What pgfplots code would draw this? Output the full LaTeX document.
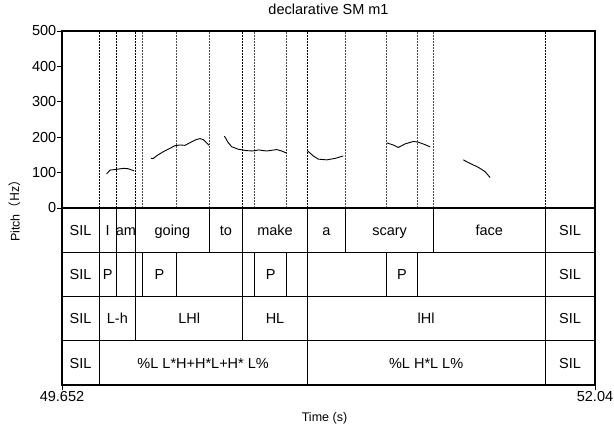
\documentclass[border=0pt]{standalone}
\usepackage{pgfplots}
\pgfplotsset{compat=1.18}
\usepackage{fontspec}
\setmainfont{Liberation Sans}
\newfontfamily\cjk{Noto Sans CJK SC}
\newcommand\tf{\fontsize{14.5bp}{16bp}\selectfont}
\newcommand\lf{\fontsize{12.5bp}{14bp}\selectfont}

\begin{document}
\begin{tikzpicture}[tier/.style={font=\tf, inner sep=0pt, text height=10.4bp, text depth=0pt}]
\begin{axis}[
  name=ax,
  scale only axis, width=533bp, height=354bp,
  xmin=49.652, xmax=52.04, ymin=-500, ymax=500,
  axis line style={line width=1.1bp},
  xtick={49.652,52.04}, xticklabels={49.652,52.04},
  ytick={0,100,...,500}, yticklabels={0,100,200,300,400,500},
  tick align=outside, major tick length=5bp,
  tick style={black, line width=0.9bp},
  xtick pos=bottom, ytick pos=left,
  ticklabel style={font=\tf},
  yticklabel style={inner sep=0.5bp},
  xticklabel style={inner sep=1.5bp},
  /pgf/number format/assume math mode=true,
  title={declarative SM m1},
  title style={font=\tf, at={(0.5,1)}, anchor=base, yshift=11bp, inner sep=0pt},
  xlabel={Time (s)},
  xlabel style={font=\lf, at={(0.5,0)}, anchor=base, yshift=-36bp, xshift=-4bp, inner sep=0pt},
  ylabel={Pitch\cjk{（}Hz\cjk{）}},
  ylabel style={font=\lf, at={(axis description cs:-0.0882,0.5)}, anchor=center, inner sep=0pt},
]

% boundaries shown in the pitch panel
\pgfplotsinvokeforeach{49.818,49.895,49.982,50.462,50.751,51.816}{
  \addplot[black, line width=0.8bp, dash pattern=on 2bp off 1bp] coordinates {(#1,0) (#1,500)};
}
\pgfplotsinvokeforeach{50.014,50.164,50.311,50.515,50.659,50.923,51.107,51.244,51.317}{
  \addplot[black!70, line width=0.8bp, dash pattern=on 2bp off 1bp] coordinates {(#1,0) (#1,500)};
}

% pitch contour
\addplot[black, line width=0.9bp] coordinates {
  (49.852,96) (49.867,107) (49.894,109) (49.927,112) (49.948,111) (49.975,105)};
\addplot[black, line width=0.9bp] coordinates {
  (50.051,140) (50.061,140) (50.082,150) (50.106,159) (50.128,166) (50.158,176)
  (50.181,178) (50.203,177) (50.233,187) (50.252,193) (50.270,196) (50.285,193)
  (50.297,186) (50.311,177)};
\addplot[black, line width=0.9bp] coordinates {
  (50.379,203) (50.387,196) (50.394,187) (50.412,173) (50.442,166) (50.480,162)
  (50.509,161) (50.532,164) (50.569,161) (50.614,165) (50.636,161) (50.659,155)};
\addplot[black, line width=0.9bp] coordinates {
  (50.751,162) (50.778,147) (50.800,138) (50.838,136) (50.875,140) (50.912,147)};
\addplot[black, line width=0.9bp] coordinates {
  (51.107,184) (51.136,178) (51.159,171) (51.189,181) (51.226,188) (51.248,186)
  (51.274,180) (51.301,173)};
\addplot[black, line width=0.9bp] coordinates {
  (51.450,136) (51.480,126) (51.517,115) (51.547,103) (51.570,86)};

% tier separators
\pgfplotsinvokeforeach{0,-125,-250,-375}{
  \addplot[black, line width=1.1bp] coordinates {(49.652,#1) (52.04,#1)};
}
% tier 1: words
\pgfplotsinvokeforeach{49.818,49.895,49.982,50.311,50.462,50.751,50.923,51.317,51.816}{
  \addplot[black, line width=0.8bp] coordinates {(#1,0) (#1,-125)};
}
% tier 2: prominence
\pgfplotsinvokeforeach{49.818,49.895,49.982,50.014,50.164,50.462,50.515,50.659,50.751,51.107,51.244,51.816}{
  \addplot[black, line width=0.8bp] coordinates {(#1,-125) (#1,-250)};
}
% tier 3
\pgfplotsinvokeforeach{49.818,49.982,50.462,50.751,51.816}{
  \addplot[black, line width=0.8bp] coordinates {(#1,-250) (#1,-375)};
}
% tier 4
\pgfplotsinvokeforeach{49.818,50.751,51.816}{
  \addplot[black, line width=0.8bp] coordinates {(#1,-375) (#1,-500)};
}

\node[tier] at (axis cs:49.735,-62.5) {SIL};
\node[tier] at (axis cs:49.8565,-62.5) {I};
\node[tier] at (axis cs:49.9385,-62.5) {am};
\node[tier] at (axis cs:50.1465,-62.5) {going};
\node[tier] at (axis cs:50.3865,-62.5) {to};
\node[tier] at (axis cs:50.6065,-62.5) {make};
\node[tier] at (axis cs:50.837,-62.5) {a};
\node[tier] at (axis cs:51.12,-62.5) {scary};
\node[tier] at (axis cs:51.5665,-62.5) {face};
\node[tier] at (axis cs:51.928,-62.5) {SIL};

\node[tier] at (axis cs:49.735,-187.5) {SIL};
\node[tier] at (axis cs:49.8565,-187.5) {P};
\node[tier] at (axis cs:50.089,-187.5) {P};
\node[tier] at (axis cs:50.587,-187.5) {P};
\node[tier] at (axis cs:51.1755,-187.5) {P};
\node[tier] at (axis cs:51.928,-187.5) {SIL};

\node[tier] at (axis cs:49.735,-312.5) {SIL};
\node[tier] at (axis cs:49.9,-312.5) {L-h};
\node[tier] at (axis cs:50.222,-312.5) {LHl};
\node[tier] at (axis cs:50.6065,-312.5) {HL};
\node[tier] at (axis cs:51.2835,-312.5) {lHl};
\node[tier] at (axis cs:51.928,-312.5) {SIL};

\node[tier] at (axis cs:49.735,-437.5) {SIL};
\node[tier] at (axis cs:50.2845,-437.5) {\%L L*H+H*L+H* L\%};
\node[tier] at (axis cs:51.2835,-437.5) {\%L H*L L\%};
\node[tier] at (axis cs:51.928,-437.5) {SIL};
\end{axis}
\pgfresetboundingbox
\path (ax.south west) ++(-62bp,-40bp) rectangle ++(614bp,425bp);
\end{tikzpicture}
\end{document}
